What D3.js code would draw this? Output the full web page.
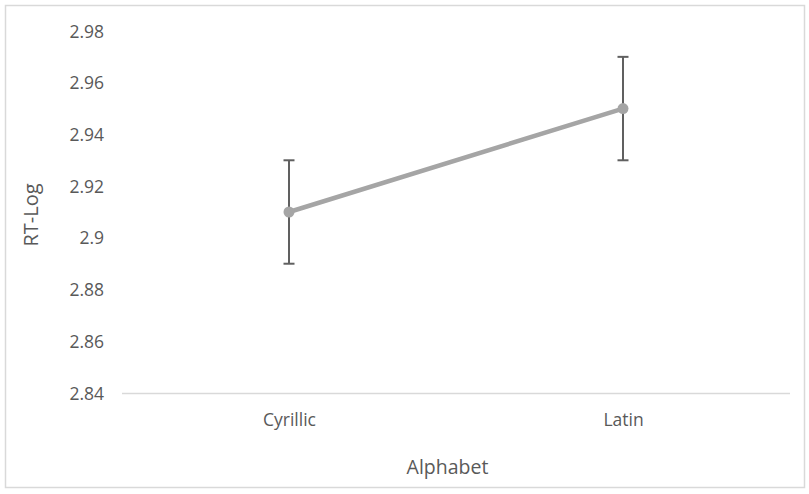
<!DOCTYPE html>
<html>
<head>
<meta charset="utf-8">
<script src="https://cdn.jsdelivr.net/npm/d3@7"></script>
<style>
  body { margin: 0; background: #fff; }
  svg { display: block; }
  text { font-family: "Open Sans", sans-serif; fill: #595959; }
</style>
</head>
<body>
<svg id="chart" width="809" height="494"></svg>
<script>
// Mean log reaction time per alphabet, with error bar half-widths
const categories = ["Cyrillic", "Latin"];
const means = [2.91, 2.95];
const errors = [0.02, 0.02];
const yTicks = [2.84, 2.86, 2.88, 2.9, 2.92, 2.94, 2.96, 2.98];

const svg = d3.select("#chart");
const W = 809, H = 494;
const FONT = "\"Open Sans\", sans-serif";

// chart frame
svg.append("rect")
  .attr("x", 5.5).attr("y", 5.5)
  .attr("width", W - 10).attr("height", H - 12)
  .attr("fill", "#fff").attr("stroke", "#d9d9d9").attr("stroke-width", 1.5);

const plot = { left: 122, right: 790, top: 31, bottom: 393 };

const x = d3.scalePoint()
  .domain(categories)
  .range([plot.left, plot.right])
  .padding(0.5);

const y = d3.scaleLinear()
  .domain([2.84, 2.98])
  .range([plot.bottom, plot.top]);

// y axis labels (no line, no ticks)
const yAxis = d3.axisLeft(y)
  .tickValues(yTicks)
  .tickFormat(d => String(+d.toFixed(2)))
  .tickSize(0)
  .tickPadding(18);
const gy = svg.append("g")
  .attr("transform", `translate(${plot.left},0)`)
  .call(yAxis);
gy.select(".domain").remove();
gy.selectAll("text")
  .attr("dy", "0.35em")
  .style("font-size", "17.5px")
  .style("fill", "#595959")
  .style("font-family", FONT);

// x axis baseline and category labels
const xAxis = d3.axisBottom(x).tickSize(0).tickPadding(0);
const gx = svg.append("g")
  .attr("transform", `translate(0,${plot.bottom})`)
  .call(xAxis);
gx.select(".domain")
  .attr("d", `M${plot.left},0.5H${plot.right}`)
  .attr("stroke", "#d9d9d9").attr("stroke-width", 1.5);
gx.selectAll("text")
  .attr("y", 33)
  .attr("dy", 0)
  .style("font-size", "17.5px")
  .style("fill", "#595959")
  .style("font-family", FONT);

// axis titles
svg.append("text")
  .attr("transform", `translate(38,${(plot.top + plot.bottom) / 2 + 3}) rotate(-90)`)
  .attr("text-anchor", "middle")
  .style("font-size", "20px")
  .text("RT-Log");

svg.append("text")
  .attr("x", 447.5)
  .attr("y", 474)
  .attr("text-anchor", "middle")
  .style("font-size", "19.5px")
  .text("Alphabet");

const data = categories.map((c, i) => ({ c, m: means[i], e: errors[i] }));

// connecting line
svg.append("path")
  .datum(data)
  .attr("fill", "none")
  .attr("stroke", "#a5a5a5")
  .attr("stroke-width", 4.5)
  .attr("stroke-linecap", "round")
  .attr("d", d3.line().x(d => x(d.c)).y(d => y(d.m)));

// error bars
const eb = svg.append("g").attr("stroke", "#606060").attr("stroke-width", 2).attr("fill", "none");
data.forEach(d => {
  const cx = x(d.c);
  eb.append("line").attr("x1", cx).attr("x2", cx).attr("y1", y(d.m + d.e)).attr("y2", y(d.m - d.e));
  eb.append("line").attr("x1", cx - 5.5).attr("x2", cx + 5.5).attr("y1", y(d.m + d.e)).attr("y2", y(d.m + d.e));
  eb.append("line").attr("x1", cx - 5.5).attr("x2", cx + 5.5).attr("y1", y(d.m - d.e)).attr("y2", y(d.m - d.e));
});

// markers
svg.append("g").selectAll("circle")
  .data(data)
  .join("circle")
  .attr("cx", d => x(d.c))
  .attr("cy", d => y(d.m))
  .attr("r", 5.5)
  .attr("fill", "#a5a5a5");
</script>
</body>
</html>
